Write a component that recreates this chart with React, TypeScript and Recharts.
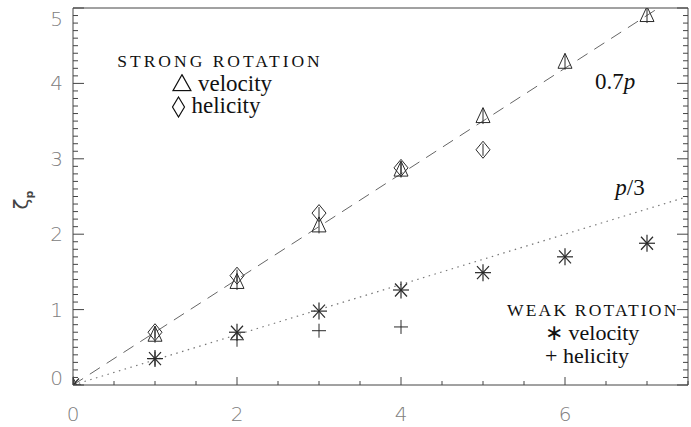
import { ComposedChart, Scatter, Line, XAxis, YAxis } from "recharts";

const AXIS = "#444";
const MARK = "#2a2a2a";
const LABEL = "#808080";
const SERIF = "'Liberation Serif', 'Times New Roman', serif";
const SANS = "'DejaVu Sans', 'Liberation Sans', sans-serif";

// moment order p
const P_STRONG_VEL = [0, 1, 2, 3, 4, 5, 6, 7];
const Z_STRONG_VEL = [0, 0.68, 1.38, 2.13, 2.87, 3.58, 4.3, 4.92];
const P_STRONG_HEL = [1, 2, 3, 4, 5];
const Z_STRONG_HEL = [0.7, 1.45, 2.28, 2.88, 3.12];
const P_WEAK_VEL = [0, 1, 2, 3, 4, 5, 6, 7];
const Z_WEAK_VEL = [0, 0.35, 0.7, 0.98, 1.26, 1.49, 1.7, 1.88];
const P_WEAK_HEL = [1, 2, 3, 4];
const Z_WEAK_HEL = [0.35, 0.6, 0.72, 0.77];

// reference laws 0.7p and p/3
const P_FIT_STRONG = [0, 7.14];
const Z_FIT_STRONG = [0, 5];
const P_FIT_WEAK = [0, 7.5];
const Z_FIT_WEAK = [0, 2.5];

const X_LABELS = [0, 2, 4, 6];
const Y_LABELS = [0, 1, 2, 3, 4, 5];
const X_TICKS = [0, 0.5, 1, 1.5, 2, 2.5, 3, 3.5, 4, 4.5, 5, 5.5, 6, 6.5, 7, 7.5];
const Y_TICKS = Array.from({ length: 51 }, (_, i) => i / 10);

const zip = (ps: number[], zs: number[]) => ps.map((p, i) => ({ p, z: zs[i] }));

const strongVel = zip(P_STRONG_VEL, Z_STRONG_VEL);
const strongHel = zip(P_STRONG_HEL, Z_STRONG_HEL);
const weakVel = zip(P_WEAK_VEL, Z_WEAK_VEL);
const weakHel = zip(P_WEAK_HEL, Z_WEAK_HEL);
const fitStrong = zip(P_FIT_STRONG, Z_FIT_STRONG);
const fitWeak = zip(P_FIT_WEAK, Z_FIT_WEAK);

const isMajor = (v: number, step: number) => Math.abs(v / step - Math.round(v / step)) < 1e-6;

function Triangle({ cx, cy }: any) {
  return (
    <g stroke={MARK} strokeWidth={1} fill="none">
      <path d={`M${cx},${cy - 7.5} L${cx + 7},${cy + 7.5} L${cx - 7},${cy + 7.5} Z`} />
      <line x1={cx} x2={cx} y1={cy - 7} y2={cy + 9} />
    </g>
  );
}

function Diamond({ cx, cy }: any) {
  return (
    <g stroke={MARK} strokeWidth={1} fill="none">
      <path d={`M${cx},${cy - 8.5} L${cx + 7},${cy} L${cx},${cy + 8.5} L${cx - 7},${cy} Z`} />
      <line x1={cx} x2={cx} y1={cy - 6} y2={cy + 6} />
    </g>
  );
}

function Asterisk({ cx, cy }: any) {
  return (
    <g stroke={MARK} strokeWidth={1.2}>
      <line x1={cx} x2={cx} y1={cy - 8.5} y2={cy + 8.5} />
      <line x1={cx - 8} x2={cx + 8} y1={cy} y2={cy} />
      <line x1={cx - 6} x2={cx + 6} y1={cy - 6.5} y2={cy + 6.5} />
      <line x1={cx - 6} x2={cx + 6} y1={cy + 6.5} y2={cy - 6.5} />
    </g>
  );
}

function Plus({ cx, cy }: any) {
  return (
    <g stroke={MARK} strokeWidth={1}>
      <line x1={cx} x2={cx} y1={cy - 7} y2={cy + 7} />
      <line x1={cx - 7} x2={cx + 7} y1={cy} y2={cy} />
    </g>
  );
}

const tickText = {
  fill: LABEL,
  fontFamily: SANS,
  fontWeight: 200,
  fontSize: 20,
};

function BottomTick({ x, y, payload }: any) {
  const v = payload.value;
  const major = isMajor(v, 2);
  return (
    <g>
      <line x1={x} x2={x} y1={y} y2={y - (major ? 8 : 4)} stroke={AXIS} />
      {X_LABELS.includes(v) && (
        <text x={x} y={y + 29} textAnchor="middle" dominantBaseline="central" {...tickText}>
          {v}
        </text>
      )}
    </g>
  );
}

function TopTick({ x, y, payload }: any) {
  const major = isMajor(payload.value, 2);
  return <line x1={x} x2={x} y1={y} y2={y + (major ? 8 : 5)} stroke={AXIS} />;
}

function LeftTick({ x, y, payload }: any) {
  const v = payload.value;
  const major = isMajor(v, 1);
  // end labels are pulled inside the frame, as in the original
  const ly = Math.min(Math.max(y, 19), 378);
  return (
    <g>
      <line x1={x} x2={x + (major ? 11 : 5)} y1={y} y2={y} stroke={AXIS} />
      {major && Y_LABELS.includes(Math.round(v)) && (
        <text x={x - 10} y={ly} textAnchor="end" dominantBaseline="central" {...tickText}>
          {Math.round(v)}
        </text>
      )}
    </g>
  );
}

function RightTick({ x, y, payload }: any) {
  const major = isMajor(payload.value, 1);
  return <line x1={x} x2={x - (major ? 11 : 5)} y1={y} y2={y} stroke={AXIS} />;
}

const note = (left: number, top: number, extra: any = {}) => ({
  position: "absolute" as const,
  left,
  top,
  transform: "translate(-50%, -50%)",
  fontFamily: SERIF,
  fontSize: 23,
  lineHeight: 0.9,
  color: "#111",
  whiteSpace: "nowrap" as const,
  ...extra,
});

const TriIcon = () => (
  <svg width={20} height={18} style={{ verticalAlign: "-1px", marginRight: 6 }}>
    <path d="M10,1 L19,17 L1,17 Z" fill="none" stroke="#111" strokeWidth={1.2} />
  </svg>
);

const DiaIcon = () => (
  <svg width={14} height={22} style={{ verticalAlign: "-5px", marginRight: 6 }}>
    <path d="M7,1 L13,11 L7,21 L1,11 Z" fill="none" stroke="#111" strokeWidth={1.2} />
  </svg>
);

const axisCommon = {
  interval: 0 as const,
  allowDataOverflow: true,
  tickSize: 0,
  tickMargin: 0,
  tickLine: false,
  axisLine: { stroke: AXIS },
};

export default function App() {
  return (
    <div style={{ position: "absolute", left: 0, top: 0, width: 691, height: 427, background: "#fff", overflow: "hidden" }}>
      <ComposedChart width={691} height={427} margin={{ top: 7, right: 2, bottom: 41, left: 72 }}>
        <XAxis
          xAxisId="main"
          dataKey="p"
          type="number"
          domain={[0, 7.5]}
          ticks={X_TICKS}
          height={1}
          tick={<BottomTick />}
          {...axisCommon}
        />
        <XAxis
          xAxisId="top"
          orientation="top"
          type="number"
          domain={[0, 7.5]}
          ticks={X_TICKS}
          height={1}
          tick={<TopTick />}
          {...axisCommon}
        />
        <YAxis
          yAxisId="left"
          dataKey="z"
          type="number"
          domain={[0, 5]}
          ticks={Y_TICKS}
          width={1}
          tick={<LeftTick />}
          {...axisCommon}
        />
        <YAxis
          yAxisId="right"
          orientation="right"
          type="number"
          domain={[0, 5]}
          ticks={Y_TICKS}
          width={1}
          tick={<RightTick />}
          {...axisCommon}
        />
        <Line
          xAxisId="main"
          yAxisId="left"
          data={fitStrong}
          dataKey="z"
          type="linear"
          stroke="#666"
          strokeWidth={1}
          strokeDasharray="12 8"
          dot={false}
          isAnimationActive={false}
        />
        <Line
          xAxisId="main"
          yAxisId="left"
          data={fitWeak}
          dataKey="z"
          type="linear"
          stroke="#777"
          strokeWidth={1.2}
          strokeDasharray="1.5 4.5"
          dot={false}
          isAnimationActive={false}
        />
        <Scatter xAxisId="main" yAxisId="left" data={strongVel} dataKey="z" shape={<Triangle />} isAnimationActive={false} />
        <Scatter xAxisId="main" yAxisId="left" data={strongHel} dataKey="z" shape={<Diamond />} isAnimationActive={false} />
        <Scatter xAxisId="main" yAxisId="left" data={weakVel} dataKey="z" shape={<Asterisk />} isAnimationActive={false} />
        <Scatter xAxisId="main" yAxisId="left" data={weakHel} dataKey="z" shape={<Plus />} isAnimationActive={false} />
      </ComposedChart>

      <div
        style={{
          position: "absolute",
          left: 22,
          top: 200,
          transform: "translate(-50%, -50%) rotate(-90deg)",
          fontFamily: SANS,
          fontSize: 20,
          color: "#444",
          whiteSpace: "nowrap",
        }}
      >
        ζ<sub style={{ fontSize: 11, fontWeight: 700 }}>p</sub>
      </div>

      <div style={note(220, 62, { fontSize: 17.5, letterSpacing: "3px" })}>STRONG ROTATION</div>
      <div style={note(222, 84)}>
        <TriIcon />velocity
      </div>
      <div style={note(216, 107)}>
        <DiaIcon />helicity
      </div>
      <div style={note(615, 82)}>
        0.7<i>p</i>
      </div>
      <div style={note(630, 188)}>
        <i>p</i>/3
      </div>
      <div style={note(507, 311, { transform: "translate(0, -50%)", fontSize: 17.5, letterSpacing: "2.2px" })}>
        WEAK ROTATION
      </div>
      <div style={note(545, 333, { transform: "translate(0, -50%)", fontSize: 22 })}>∗ velocity</div>
      <div style={note(545, 356, { transform: "translate(0, -50%)", fontSize: 22 })}>+ helicity</div>
    </div>
  );
}
